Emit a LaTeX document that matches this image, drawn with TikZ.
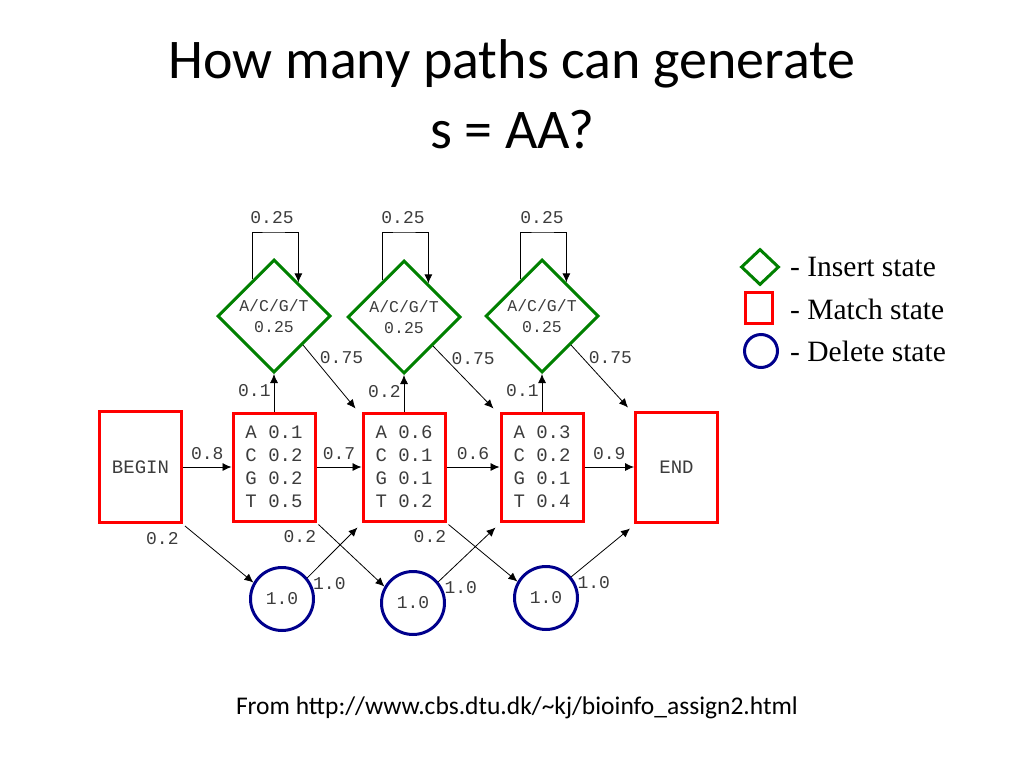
\documentclass[tikz,border=0pt]{standalone}
\usepackage{fontspec}
\setmainfont{Carlito}
\newfontfamily\monof{Liberation Mono}
\newfontfamily\serf{Liberation Serif}
\usetikzlibrary{shapes.geometric,arrows.meta,calc,positioning}
\definecolor{ins}{RGB}{0,128,0}
\definecolor{mat}{RGB}{255,0,0}
\definecolor{del}{RGB}{0,0,140}
\definecolor{txt}{RGB}{60,60,60}
\begin{document}
\begin{tikzpicture}[x=1pt,y=-1pt,
  mbox/.style={draw=mat,line width=3pt,minimum width=82pt,minimum height=108pt,inner sep=0pt,font=\monof\fontsize{19}{23}\selectfont,text=txt,align=left},
  ibox/.style={draw=ins,diamond,line width=3pt,minimum width=113pt,minimum height=113pt,inner sep=0pt,font=\monof\fontsize{16.5}{21}\selectfont,text=txt,align=center},
  dbox/.style={draw=del,circle,line width=3pt,minimum size=63pt,inner sep=0pt,font=\monof\fontsize{18}{20}\selectfont,text=txt},
  lab/.style={font=\monof\fontsize{18}{20}\selectfont,text=txt,inner sep=0pt},
  arr/.style={-{Latex[length=9pt,width=8pt]},line width=0.8pt},
  leg/.style={font=\serf\fontsize{29.5}{30}\selectfont,anchor=west,inner sep=0pt}]
\useasboundingbox (0,0) rectangle (1024,768);
\node[font=\fontsize{56}{60}\selectfont] (t1) at (512,64) {How many paths can generate};
\node[font=\fontsize{56}{60}\selectfont] (t2) at (512,130) {s = AA?};
\node[font=\fontsize{25.5}{28}\selectfont] (ft) at (517,708) {From http://www.cbs.dtu.dk/\textasciitilde kj/bioinfo\_assign2.html};

\node[mbox,minimum height=111pt] (B) at (140.5,467) {BEGIN};
\node[mbox] (M1) at (274,467) {A 0.1\\C 0.2\\G 0.2\\T 0.5};
\node[mbox] (M2) at (404,467) {A 0.6\\C 0.1\\G 0.1\\T 0.2};
\node[mbox] (M3) at (542,467) {A 0.3\\C 0.2\\G 0.1\\T 0.4};
\node[mbox,minimum height=110pt] (E) at (676.5,467) {END};

\node[ibox] (D1) at (274,316) {A/C/G/T\\0.25};
\node[ibox] (D2) at (404,317) {A/C/G/T\\0.25};
\node[ibox] (D3) at (542,316) {A/C/G/T\\0.25};

\node[dbox] (C1) at (282,599) {1.0};
\node[dbox] (C2) at (413,603) {1.0};
\node[dbox] (C3) at (546,598) {1.0};

% self loops
\foreach \d/\lx in {D1/272,D2/403,D3/542}{
  \coordinate (a\d) at ($(\d.north)!0.37!(\d.west)$);
  \coordinate (b\d) at ($(\d.north)!0.42!(\d.east)$);
  \coordinate (t\d) at (\lx,232);
  \draw[arr] (a\d) |- (t\d) -| (b\d);
  \node[lab] (l\d) at (\lx,218) {0.25};
}

% match -> insert
\draw[arr] (M1.north) -- (D1.south) node[lab,pos=0.55,left=3pt] {0.1};
\draw[arr] (M2.north) -- (D2.south) node[lab,pos=0.55,left=3pt] {0.2};
\draw[arr] (M3.north) -- (D3.south) node[lab,pos=0.55,left=3pt] {0.1};
% insert -> next match
\draw[arr] (D1.south east) -- ([shift={(-6,-3)}]M2.north west) node[lab,pos=0.2,right=6pt] {0.75};
\draw[arr] (D2.south east) -- ([shift={(-6,-3)}]M3.north west) node[lab,pos=0.2,right=6pt] {0.75};
\draw[arr] (D3.south east) -- ([shift={(-6,-3)}]E.north west) node[lab,pos=0.2,right=6pt] {0.75};
% match -> match
\draw[arr] (B.east) -- (M1.west) node[lab,midway,above=7pt] {0.8};
\draw[arr] (M1.east) -- (M2.west) node[lab,midway,above=7pt] {0.7};
\draw[arr] (M2.east) -- (M3.west) node[lab,midway,above=7pt] {0.6};
\draw[arr] (M3.east) -- (E.west) node[lab,midway,above=7pt] {0.9};
% match -> delete
\draw[arr] ([shift={(2,2)}]B.south east) -- (C1.150) node[lab,pos=0,anchor=north east,xshift=-6pt,yshift=-6pt] {0.2};
\draw[arr] ([shift={(2,2)}]M1.south east) -- (C2.150) node[lab,pos=0,anchor=north east,xshift=-2pt,yshift=-6pt] {0.2};
\draw[arr] ([shift={(2,2)}]M2.south east) -- (C3.150) node[lab,pos=0,anchor=north east,xshift=-2pt,yshift=-6pt] {0.2};
% delete -> match
\draw[arr] (C1.40) -- ([shift={(-4,5)}]M2.south west) node[lab,pos=0.05,anchor=north west,xshift=3pt,yshift=-2pt] {1.0};
\draw[arr] (C2.40) -- ([shift={(-4,5)}]M3.south west) node[lab,pos=0.05,anchor=north west,xshift=3pt,yshift=-2pt] {1.0};
\draw[arr] (C3.40) -- ([shift={(-4,5)}]E.south west) node[lab,pos=0.05,anchor=north west,xshift=3pt,yshift=-2pt] {1.0};

% legend
\node[draw=ins,diamond,line width=3pt,minimum width=38pt,minimum height=36pt,inner sep=0pt] (L1) at (760,267) {};
\node[draw=mat,line width=3pt,minimum width=27pt,minimum height=31pt,inner sep=0pt] (L2) at (758.5,307.5) {};
\node[draw=del,circle,line width=3pt,minimum size=33pt,inner sep=0pt] (L3) at (761,351) {};
\node[leg] (T1) at (790,267) {- Insert state};
\node[leg] (T2) at (790,309) {- Match state};
\node[leg] (T3) at (790,351) {- Delete state};
\end{tikzpicture}
\end{document}
